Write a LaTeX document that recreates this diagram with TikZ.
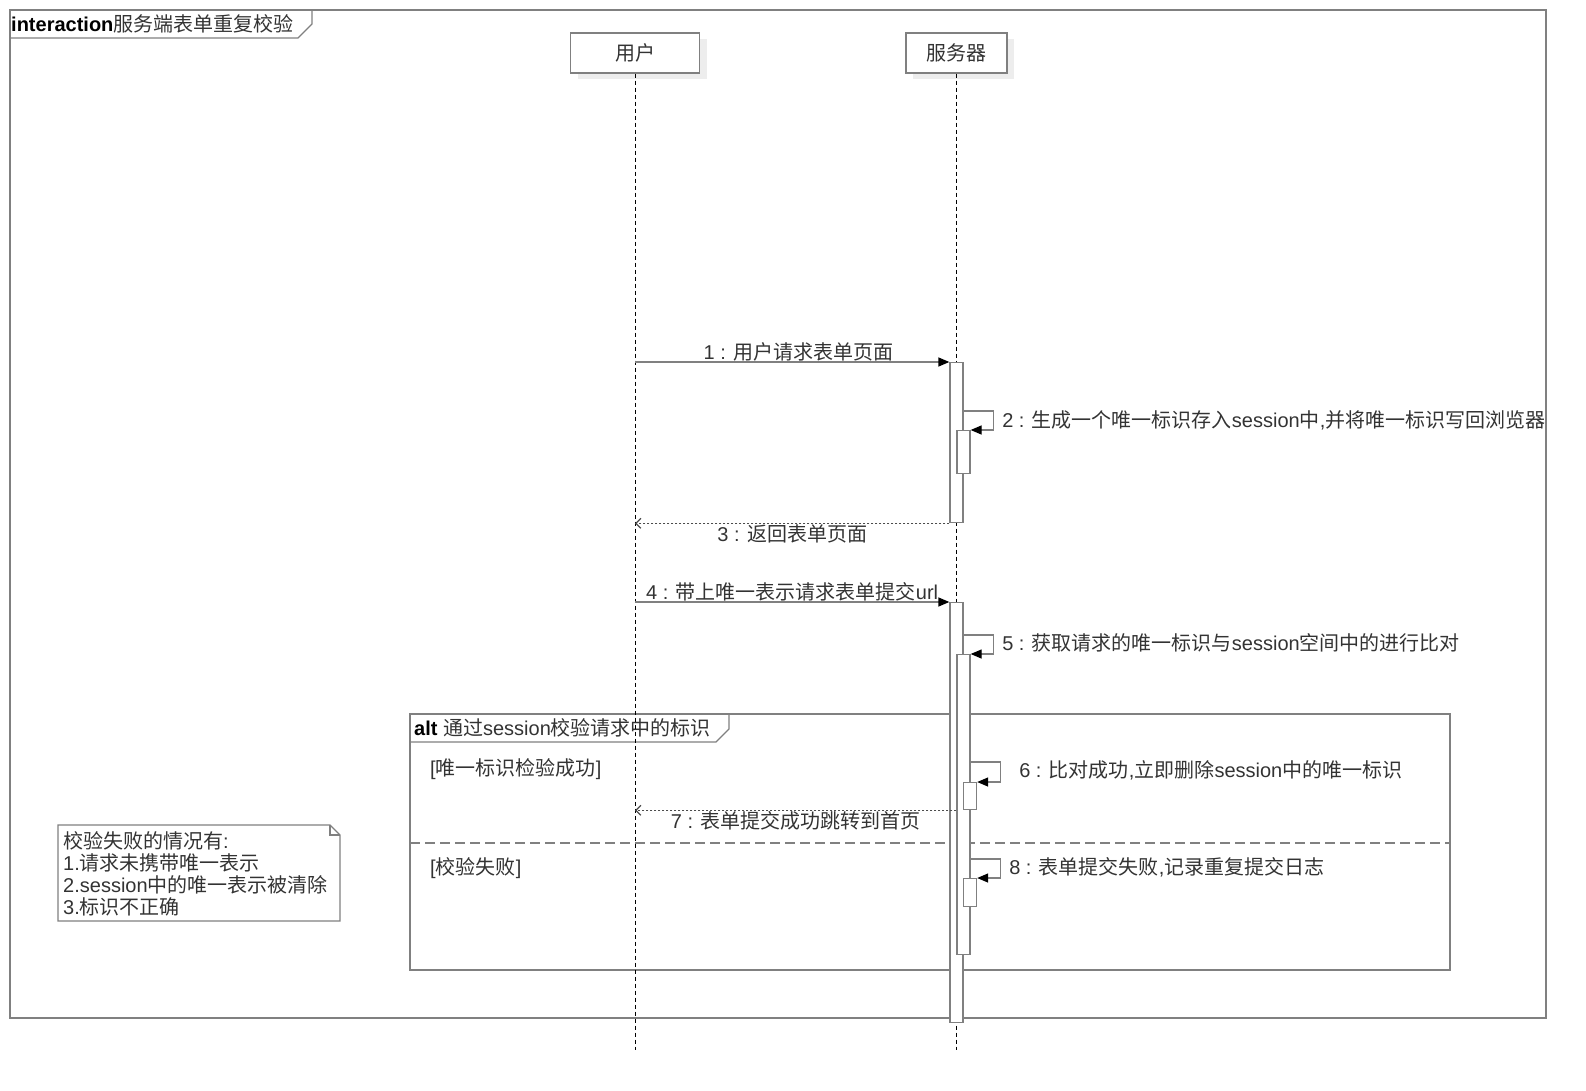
\documentclass[tikz,border=0pt]{standalone}
\usepackage{fontspec}
\setmainfont{Liberation Sans}
\newfontfamily\zh{Noto Sans CJK SC}
\usepackage{tikz}
\usetikzlibrary{arrows.meta,shadows}

\begin{document}
\begin{tikzpicture}[x=1pt, y=-1pt,
    gline/.style={draw=black!50, line width=1.3pt},
    lbl/.style={font=\fontsize{20}{22}\selectfont, text=black!80, inner sep=0pt},
    actbox/.style={gline, fill=white, minimum width=#1, minimum height=40pt, lbl,
        drop shadow={shadow xshift=7pt, shadow yshift=-6pt, fill=black!7, draw=none, opacity=1}},
    actbar/.style={gline, fill=white, minimum width=13pt, minimum height=#1, inner sep=0pt, anchor=north},
    lifeline/.style={black, line width=0.8pt, dash pattern=on 4pt off 3pt},
    callmsg/.style={gline, -{Triangle[length=11pt, width=9pt, color=black]}},
    retmsg/.style={draw=black!70, line width=1.2pt, dash pattern=on 2pt off 2pt,
        -{Straight Barb[length=5pt, width=10pt]}}]
    \useasboundingbox (0,0) rectangle (1586,1091);

    % frames
    \draw[gline] (10,10) rectangle (1546,1018);
    \draw[gline] (10,38) -- (298,38) -- (312,24) -- (312,10);
    \node[lbl, anchor=west, text=black] (title) at (11,24) {\textbf{interaction}{\zh\color{black!80} 服务端表单重复校验}};

    \draw[gline] (410,714) rectangle (1450,970);
    \draw[gline] (410,742) -- (716,742) -- (729,729) -- (729,714);
    \node[lbl, anchor=west] (alt) at (414,728) {\textbf{\color{black}alt} {\zh 通过}session{\zh 校验请求中的标识}};
    \draw[gline, dash pattern=on 10pt off 5pt] (410,843) -- (1450,843);
    \node[lbl, anchor=west] (okguard) at (430,769) {[{\zh 唯一标识检验成功}]};
    \node[lbl, anchor=west] (failguard) at (430,868) {[{\zh 校验失败}]};

    \draw[gline] (58,825) -- (330,825) -- (340,835) -- (340,921) -- (58,921) -- cycle;
    \draw[gline] (330,825) -- (330,835) -- (340,835);
    \node[lbl, anchor=north west, align=left] (note) at (63,831)
        {{\zh 校验失败的情况有}:\\1.{\zh 请求未携带唯一表示}\\2.session{\zh 中的唯一表示被清除}\\3.{\zh 标识不正确}};

    % lifelines
    \node[actbox=129pt] (user) at (635,53) {\raisebox{2pt}{\zh 用户}};
    \node[actbox=101pt] (server) at (956.5,53) {\raisebox{2pt}{\zh 服务器}};
    \draw[lifeline] (user.south) -- ++(0,976);
    \draw[lifeline] (server.south) -- ++(0,976);

    \node[actbar=160pt] (b1) at (956.5,362) {};
    \node[actbar=43pt] (b1a) at (963.5,430) {};
    \node[actbar=420pt] (b2) at (956.5,602) {};
    \node[actbar=300pt] (b3) at (963.5,654) {};
    \node[actbar=27pt] (b4) at (970,782) {};
    \node[actbar=28pt] (b5) at (970,878) {};

    % messages
    \draw[callmsg] (b1.north west -| user.south) -- (b1.north west)
        node[lbl, pos=0.52, above=0.5pt] {1 : {\zh 用户请求表单页面}};
    \draw[callmsg] (b1.north east) ++(0,49) -- ++(30,0)
        node[lbl, anchor=west, xshift=8pt, yshift=-9pt] {2 : {\zh 生成一个唯一标识存入}session{\zh 中},{\zh 并将唯一标识写回浏览器}}
        |- (b1a.north east);
    \draw[retmsg] (b1.south west) -- (b1.south west -| user.south)
        node[lbl, midway, below=0.5pt] {3 : {\zh 返回表单页面}};
    \draw[callmsg] (b2.north west -| user.south) -- (b2.north west)
        node[lbl, midway, above=0.5pt] {4 : {\zh 带上唯一表示请求表单提交}url};
    \draw[callmsg] (b2.north east) ++(0,33) -- ++(30,0)
        node[lbl, anchor=west, xshift=8pt, yshift=-8pt] {5 : {\zh 获取请求的唯一标识与}session{\zh 空间中的进行比对}}
        |- (b3.north east);
    \draw[callmsg] (b3.north east) ++(0,108) -- ++(30,0)
        node[lbl, anchor=west, xshift=18pt, yshift=-8pt] {6 : {\zh 比对成功},{\zh 立即删除}session{\zh 中的唯一标识}}
        |- (b4.north east);
    \draw[retmsg] (b3.west |- b4.south) -- (b4.south -| user.south)
        node[lbl, midway, below=0.5pt] {7 : {\zh 表单提交成功跳转到首页}};
    \draw[callmsg] (b3.north east) ++(0,205) -- ++(30,0)
        node[lbl, anchor=west, xshift=8pt, yshift=-8pt] {8 : {\zh 表单提交失败},{\zh 记录重复提交日志}}
        |- (b5.north east);
\end{tikzpicture}
\end{document}
